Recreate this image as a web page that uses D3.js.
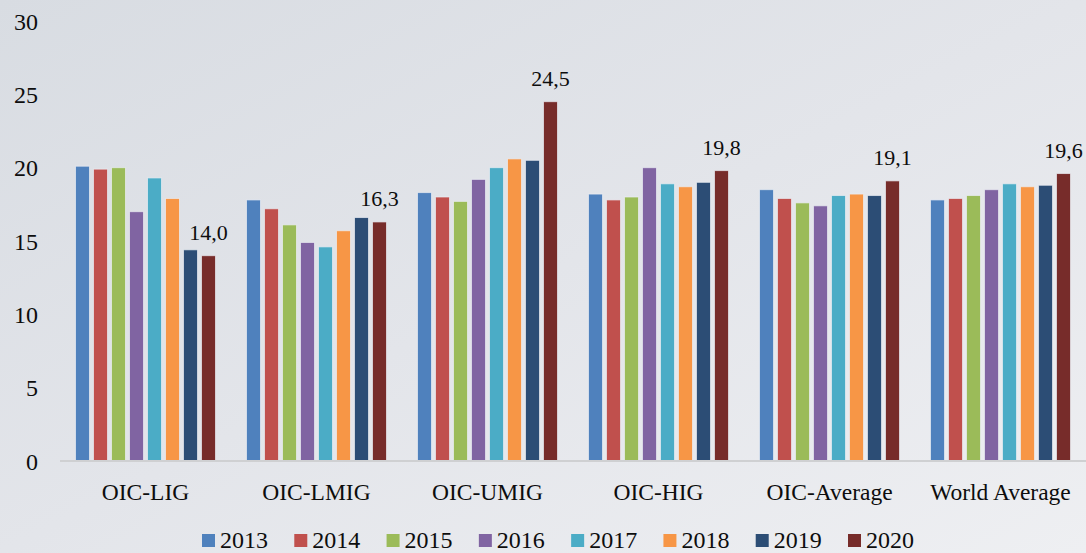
<!DOCTYPE html>
<html>
<head>
<meta charset="utf-8">
<script src="https://cdn.jsdelivr.net/npm/d3@7"></script>
<style>
  html, body { margin: 0; padding: 0; }
  body { width: 1086px; height: 553px; overflow: hidden; }
  svg text { font-family: "Liberation Serif", "DejaVu Serif", serif; fill: #0d0d0d; }
</style>
</head>
<body>
<svg id="chart" width="1086" height="553"></svg>
<script>
// Country groups along the x axis
const categories = ["OIC-LIG", "OIC-LMIG", "OIC-UMIG", "OIC-HIG", "OIC-Average", "World Average"];
// One series per year
const years = ["2013", "2014", "2015", "2016", "2017", "2018", "2019", "2020"];
const v2013 = [20.1, 17.8, 18.3, 18.2, 18.5, 17.8];
const v2014 = [19.9, 17.2, 18.0, 17.8, 17.9, 17.9];
const v2015 = [20.0, 16.1, 17.7, 18.0, 17.6, 18.1];
const v2016 = [17.0, 14.9, 19.2, 20.0, 17.4, 18.5];
const v2017 = [19.3, 14.6, 20.0, 18.9, 18.1, 18.9];
const v2018 = [17.9, 15.7, 20.6, 18.7, 18.2, 18.7];
const v2019 = [14.4, 16.6, 20.5, 19.0, 18.1, 18.8];
const v2020 = [14.0, 16.3, 24.5, 19.8, 19.1, 19.6];
const yTicks = [0, 5, 10, 15, 20, 25, 30];
const colors = ["#4f81bd", "#c0504d", "#9bbb59", "#8064a2", "#4bacc6", "#f79646", "#2c4d75", "#772c2a"];

const seriesValues = [v2013, v2014, v2015, v2016, v2017, v2018, v2019, v2020];
const rows = [];
seriesValues.forEach((vals, si) => {
  vals.forEach((v, ci) => rows.push({ year: years[si], cat: categories[ci], value: v, si }));
});

const svg = d3.select("#chart");
const W = 1086, H = 553;

// soft grey backdrop
const defs = svg.append("defs");
const grad = defs.append("linearGradient").attr("id", "bg")
  .attr("x1", "0%").attr("y1", "0%").attr("x2", "100%").attr("y2", "100%");
grad.append("stop").attr("offset", "0%").attr("stop-color", "#d8dce2");
grad.append("stop").attr("offset", "50%").attr("stop-color", "#e3e5ea");
grad.append("stop").attr("offset", "100%").attr("stop-color", "#eeeff2");
svg.append("rect").attr("width", W).attr("height", H).attr("fill", "url(#bg)");

const plot = { left: 60, right: 1086, top: 21, bottom: 461 };

const x0 = d3.scaleBand().domain(categories).range([plot.left, plot.right]).paddingInner(0).paddingOuter(0);
const x1 = d3.scaleBand().domain(years)
  .range([15.5, x0.bandwidth() - 15.5]).paddingInner(4 / 18).paddingOuter(0);
const y = d3.scaleLinear().domain([0, 30]).range([plot.bottom, plot.top]);

// y tick labels
const yAxis = d3.axisLeft(y).tickValues(yTicks).tickSize(0).tickPadding(0).tickFormat(d3.format("d"));
const gy = svg.append("g").attr("transform", `translate(${plot.left - 22},0)`).call(yAxis);
gy.select(".domain").remove();
gy.selectAll("text").style("font-size", "24px").attr("dy", "0.34em")
  .style("font-family", "Liberation Serif, serif").attr("fill", "#0d0d0d");

// bars
svg.append("g").selectAll("rect").data(rows).join("rect")
  .attr("x", d => x0(d.cat) + x1(d.year))
  .attr("y", d => y(d.value))
  .attr("width", x1.bandwidth())
  .attr("height", d => y(0) - y(d.value))
  .attr("fill", d => colors[d.si])
  .attr("stroke", "rgba(235,238,243,0.7)")
  .attr("stroke-width", 1);

// baseline
const xAxis = d3.axisBottom(x0).tickSize(0).tickPadding(0);
const gx = svg.append("g").attr("transform", `translate(0,${plot.bottom})`).call(xAxis);
gx.select(".domain").attr("stroke", "#cfd0d2").attr("stroke-width", 2).attr("d", `M${plot.left},0H${plot.right}`);
gx.selectAll("text").style("font-size", "23.5px").attr("y", 39).attr("dy", 0)
  .style("font-family", "Liberation Serif, serif").attr("fill", "#0d0d0d");

// value labels on the 2020 bars
const fmt = v => d3.format(".1f")(v).replace(".", ",");
svg.append("g").selectAll("text").data(rows.filter(d => d.year === "2020")).join("text")
  .attr("x", d => x0(d.cat) + x1(d.year) + x1.bandwidth() / 2)
  .attr("y", d => y(d.value) - 16)
  .attr("text-anchor", "middle")
  .style("font-size", "22px")
  .text(d => fmt(d.value));

// legend
const legend = svg.append("g");
const legX = d3.scalePoint().domain(years).range([202, 848]);
const item = legend.selectAll("g").data(years).join("g")
  .attr("transform", d => `translate(${legX(d)},534)`);
item.append("rect").attr("width", 13).attr("height", 13).attr("fill", (d, i) => colors[i]);
item.append("text").attr("x", 18).attr("y", 14).style("font-size", "24px").text(d => d);
</script>
</body>
</html>
